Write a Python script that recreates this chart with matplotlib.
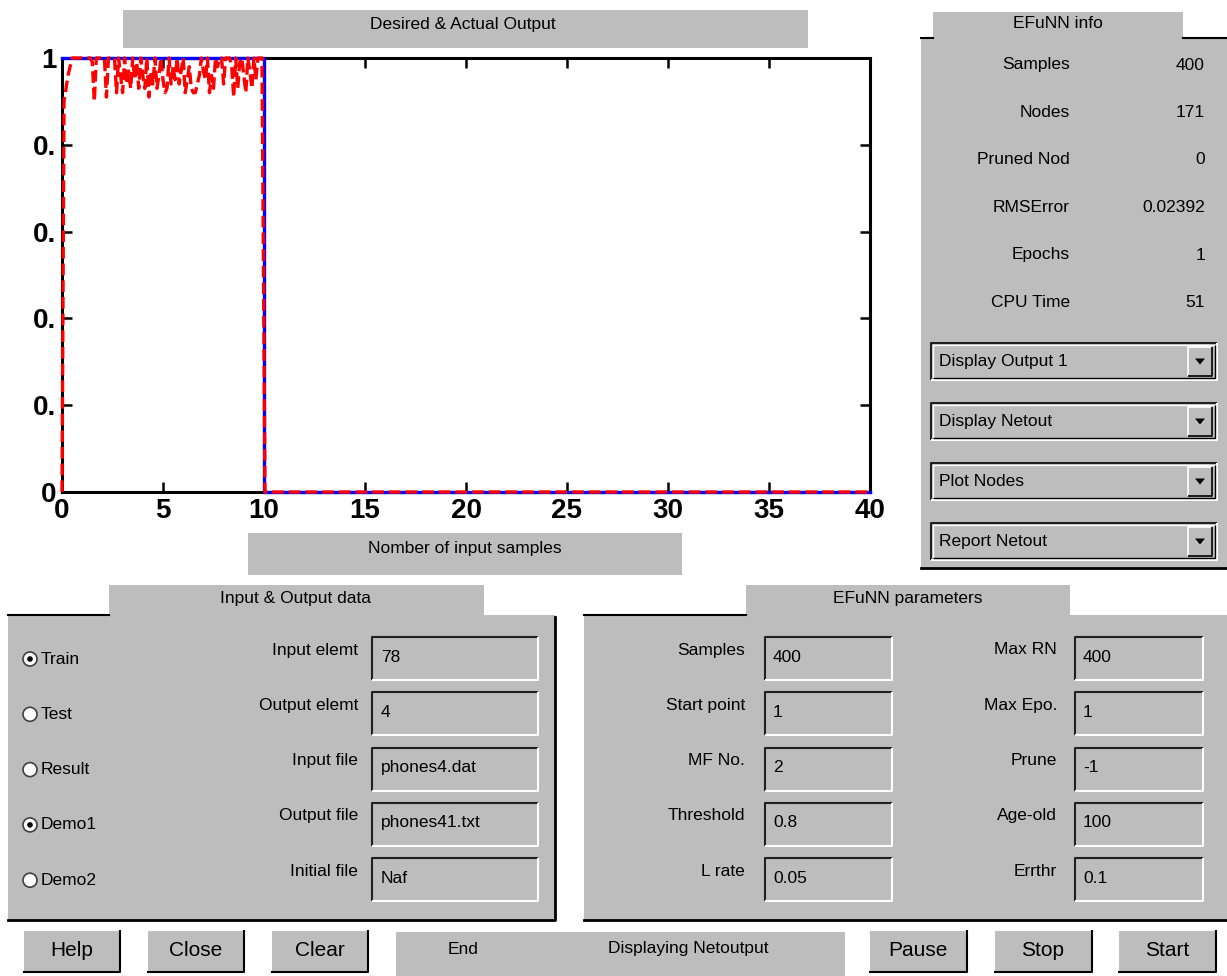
import matplotlib
matplotlib.use('Agg')
import matplotlib.pyplot as plt
import matplotlib.patches as mpatches
import numpy as np

# ---- data ----
des_x = [0, 10, 10, 40]
des_y = [1, 1, 0, 0]

act_y = [0.00, 0.90, 0.93, 0.96, 0.98, 1.00, 1.00, 1.00, 1.00, 1.00,
         1.00, 1.00, 1.00, 1.00, 1.00, 0.99, 0.90, 1.00, 1.00, 1.00,
         1.00, 1.00, 0.91, 1.00, 1.00, 1.00, 1.00, 0.92, 1.00, 0.96,
         0.92, 1.00, 0.94, 0.97, 0.93, 1.00, 0.95, 0.99, 0.93, 1.00,
         0.96, 0.93, 1.00, 0.91, 0.97, 0.94, 1.00, 0.93, 0.96, 1.00,
         0.95, 0.92, 0.93, 1.00, 0.94, 0.98, 0.95, 1.00, 0.94, 0.97,
         1.00, 0.92, 0.95, 0.98, 0.93, 0.92, 0.92, 0.94, 0.96, 1.00,
         0.97, 0.95, 1.00, 0.92, 0.96, 0.93, 1.00, 0.98, 1.00, 1.00,
         0.94, 1.00, 1.00, 1.00, 0.98, 0.91, 1.00, 0.93, 0.99, 1.00,
         0.96, 0.92, 1.00, 0.97, 0.93, 1.00, 0.95, 1.00, 1.00, 1.00,
         0.00, 0.00]
act_x = list(np.round(np.arange(0, 10.0, 0.1), 1)) + [10.05, 40]

xticks = [0, 5, 10, 15, 20, 25, 30, 35, 40]
yticks = [0, 0.2, 0.4, 0.6, 0.8, 1]
ytick_labels = ['0', '0.', '0.', '0.', '0.', '1']

info_labels = ['Samples', 'Nodes', 'Pruned Nod', 'RMSError', 'Epochs', 'CPU Time']
info_values = ['400', '171', '0', '0.02392', '1', '51']
menus = ['Display Output 1', 'Display Netout', 'Plot Nodes', 'Report Netout']

modes = ['Train', 'Test', 'Result', 'Demo1', 'Demo2']
mode_on = [True, False, False, True, False]
io_labels = ['Input elemt', 'Output elemt', 'Input file', 'Output file', 'Initial file']
io_values = ['78', '4', 'phones4.dat', 'phones41.txt', 'Naf']

par_labels1 = ['Samples', 'Start point', 'MF No.', 'Threshold', 'L rate']
par_values1 = ['400', '1', '2', '0.8', '0.05']
par_labels2 = ['Max RN', 'Max Epo.', 'Prune', 'Age-old', 'Errthr']
par_values2 = ['400', '1', '-1', '100', '0.1']

buttons_left = ['Help', 'Close', 'Clear']
buttons_right = ['Pause', 'Stop', 'Start']

W, H = 1227, 976
GRAY = '#bdbdbd'
GUI_FONT = ['Liberation Sans', 'DejaVu Sans']
FS = 12.5

fig = plt.figure(figsize=(W / 100, H / 100), dpi=100)
fig.patch.set_facecolor('white')

# full-figure axes in pixel coordinates for the GUI parts
bg = fig.add_axes([0, 0, 1, 1])
bg.set_xlim(0, W)
bg.set_ylim(H, 0)
bg.axis('off')


def rect(x0, y0, x1, y1, fc=GRAY, ec='none', lw=0):
    bg.add_patch(mpatches.Rectangle((x0, y0), x1 - x0, y1 - y0, fc=fc, ec=ec, lw=lw))


def bevel(x0, y0, x1, y1, raised=True, lw=1.5):
    light, dark = ('white', 'black') if raised else ('#202020', 'white')
    bg.plot([x0, x0, x1], [y1, y0, y0], color=light, lw=lw, solid_capstyle='butt')
    bg.plot([x0, x1, x1], [y1, y1, y0], color=dark, lw=lw, solid_capstyle='butt')


def txt(x, y, s, ha='center', size=FS):
    bg.text(x, y, s, ha=ha, va='center', fontsize=size, family=GUI_FONT, color='black')


# title and x label bars
rect(123, 10, 808, 48)
txt(463, 24, 'Desired & Actual Output')
rect(248, 533, 682, 575)
txt(465, 548, 'Nomber of input samples')

# EFuNN info panel
rect(921, 38, W, 568)
rect(933, 12, 1183, 40)
bg.plot([921, 933], [38, 38], color='black', lw=1.5)
bg.plot([1183, W], [38, 38], color='black', lw=1.5)
bg.plot([921, W], [568, 568], color='black', lw=2)
txt(1058, 24, 'EFuNN info')
for i, (lab, val) in enumerate(zip(info_labels, info_values)):
    y = 65 + i * 47.5
    txt(1070, y, lab, ha='right')
    txt(1205, y, val, ha='right')
for i, m in enumerate(menus):
    y0 = 343 + i * 60
    y1 = y0 + 37
    bevel(931, y0, 1217, y1, raised=False)
    bevel(933, y0 + 2, 1215, y1 - 2, raised=True, lw=1)
    txt(939, (y0 + y1) / 2, m, ha='left')
    bevel(1188, y0 + 4, 1212, y1 - 4, raised=True, lw=1.2)
    cx, cy = 1200, (y0 + y1) / 2
    bg.add_patch(mpatches.Polygon([[cx - 5, cy - 3], [cx + 5, cy - 3], [cx, cy + 3]], fc='black', ec='none'))

# Input & Output data panel
rect(8, 615, 555, 920)
rect(109, 585, 484, 617)
bg.plot([8, 109], [615, 615], color='black', lw=1.5)
bg.plot([8, 555, 555], [920, 920, 617], color='black', lw=2)
txt(296, 598, 'Input & Output data')
for i, (m, on) in enumerate(zip(modes, mode_on)):
    y = 659 + i * 55.3
    bg.add_patch(mpatches.Circle((30, y), 7, fc='white', ec='#404040', lw=1.2))
    if on:
        bg.add_patch(mpatches.Circle((30, y), 2.8, fc='black', ec='none'))
    txt(41, y, m, ha='left')
for i, (lab, val) in enumerate(zip(io_labels, io_values)):
    y0 = 637 + i * 55.3
    txt(358, y0 + 13, lab, ha='right')
    bevel(372, y0, 538, y0 + 43, raised=False)
    txt(381, y0 + 20, val, ha='left')

# EFuNN parameters panel
rect(584, 615, W, 920)
rect(746, 585, 1070, 617)
bg.plot([584, 746], [615, 615], color='black', lw=1.5)
bg.plot([584, W], [920, 920], color='black', lw=2)
txt(908, 598, 'EFuNN parameters')
for i in range(5):
    y0 = 637 + i * 55.3
    txt(745, y0 + 13, par_labels1[i], ha='right')
    bevel(765, y0, 892, y0 + 43, raised=False)
    txt(773, y0 + 20, par_values1[i], ha='left')
    txt(1057, y0 + 13, par_labels2[i], ha='right')
    bevel(1075, y0, 1203, y0 + 43, raised=False)
    txt(1083, y0 + 20, par_values2[i], ha='left')

# bottom buttons and status bar
for i, b in enumerate(buttons_left):
    x0 = 23 + i * 124
    rect(x0, 930, x0 + 97, 972)
    bevel(x0, 930, x0 + 97, 972)
    txt(x0 + 48.5, 951, b, size=15)
rect(396, 932, 845, 976)
txt(463, 949, 'End')
txt(688, 949, 'Displaying Netoutput')
for i, b in enumerate(buttons_right):
    x0 = 869 + i * 124.5
    rect(x0, 930, x0 + 98, 972)
    bevel(x0, 930, x0 + 98, 972)
    txt(x0 + 49, 951, b, size=15)

# ---- main plot ----
ax = fig.add_axes([62 / W, 1 - 492 / H, 808 / W, 434 / H])
ax.set_facecolor('white')
ax.plot(des_x, des_y, color='blue', lw=2.4, clip_on=False, zorder=3)
ax.plot(act_x, act_y, color='red', lw=2.4, ls=(0, (3.5, 1.5)), clip_on=False, zorder=4)
ax.set_xlim(0, 40)
ax.set_ylim(0, 1)
ax.set_xticks(xticks)
ax.set_yticks(yticks)
ax.set_yticklabels(ytick_labels)
ax.tick_params(direction='in', length=7, width=1.8, top=True, right=True,
               labelsize=20, pad=4)
for lab in ax.get_xticklabels() + ax.get_yticklabels():
    lab.set_fontfamily('Liberation Sans')
    lab.set_fontweight('bold')
for s in ax.spines.values():
    s.set_linewidth(2.2)
    s.set_zorder(2.5)

fig.savefig('out.png', dpi=100)
